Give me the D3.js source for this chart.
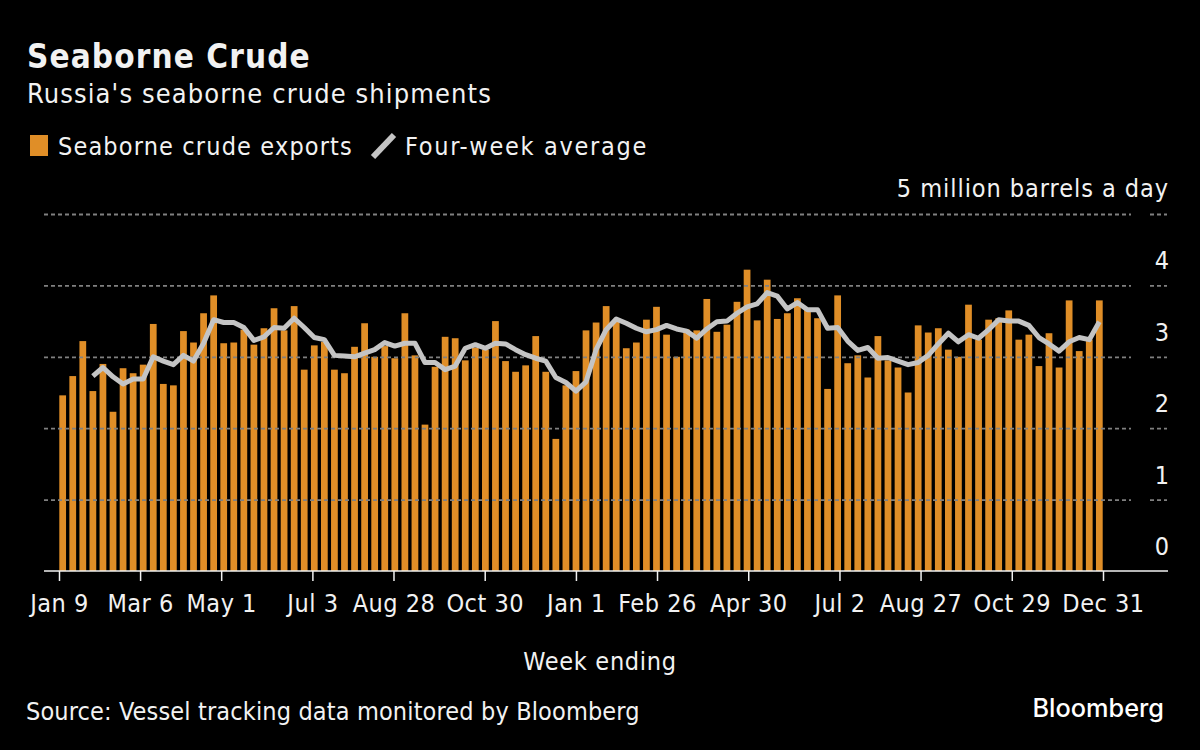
<!DOCTYPE html>
<html>
<head>
<meta charset="utf-8">
<script src="https://cdn.jsdelivr.net/npm/d3@7"></script>
<style>
html, body { margin: 0; padding: 0; background: #000; }
text { font-family: "DejaVu Sans", sans-serif; font-stretch: condensed; fill: #f2f2f2; }
</style>
</head>
<body>
<svg id="chart" width="1200" height="750"></svg>
<script>
// values, million barrels a day
var exportsVals = [
    2.46, 2.73, 3.22, 2.52, 2.90, 2.23, 2.84, 2.77, 2.89, 3.46, 2.62, 2.60, 3.36,
    3.20, 3.61, 3.86, 3.19, 3.20, 3.38, 3.17, 3.40, 3.68, 3.37, 3.71, 2.82, 3.16,
    3.21, 2.82, 2.77, 3.14, 3.47, 3.00, 3.15, 2.98, 3.61, 3.02, 2.05, 2.86, 3.28,
    3.26, 2.95, 3.13, 3.10, 3.50, 2.94, 2.79, 2.88, 3.29, 2.79, 1.85, 2.60, 2.80,
    3.37, 3.48, 3.71, 3.52, 3.12, 3.20, 3.52, 3.70, 3.31, 3.00, 3.38, 3.37, 3.81,
    3.35, 3.45, 3.77, 4.22, 3.51, 4.08, 3.53, 3.61, 3.82, 3.68, 3.54, 2.55, 3.86,
    2.91, 3.02, 2.71, 3.29, 2.95, 2.85, 2.50, 3.44, 3.34, 3.40, 3.10, 3.00, 3.73,
    3.24, 3.52, 3.54, 3.65, 3.24, 3.31, 2.87, 3.33, 2.85, 3.79, 3.08, 3.24, 3.79
];
// four-week average starts with the fourth week
var averageVals = [
    2.73, 2.85, 2.72, 2.62, 2.69, 2.69, 3.00, 2.94, 2.89, 3.02, 2.94, 3.19, 3.52,
    3.48, 3.48, 3.41, 3.23, 3.28, 3.41, 3.40, 3.54, 3.41, 3.27, 3.24, 3.02, 3.01,
    3.00, 3.05, 3.10, 3.20, 3.15, 3.19, 3.19, 2.92, 2.92, 2.82, 2.87, 3.12, 3.17,
    3.12, 3.19, 3.18, 3.10, 3.03, 2.98, 2.94, 2.71, 2.64, 2.52, 2.65, 3.10, 3.38,
    3.53, 3.47, 3.40, 3.35, 3.38, 3.44, 3.39, 3.36, 3.26, 3.39, 3.49, 3.50, 3.61,
    3.70, 3.74, 3.90, 3.85, 3.67, 3.76, 3.66, 3.66, 3.40, 3.41, 3.22, 3.09, 3.13,
    2.98, 2.99, 2.94, 2.89, 2.92, 3.02, 3.18, 3.33, 3.21, 3.31, 3.26, 3.38, 3.52,
    3.50, 3.50, 3.44, 3.27, 3.18, 3.08, 3.21, 3.27, 3.24, 3.49
];
var tickWeeks = [0, 8, 16, 25, 33, 42, 51, 59, 68, 77, 85, 94, 103];
var tickLabels = ["Jan 9", "Mar 6", "May 1", "Jul 3", "Aug 28", "Oct 30", "Jan 1", "Feb 26", "Apr 30", "Jul 2", "Aug 27", "Oct 29", "Dec 31"];
var yTicks = [0, 1, 2, 3, 4, 5];

var svg = d3.select("#chart");

var x = d3.scaleBand()
    .domain(d3.range(exportsVals.length))
    .range([59.3, 1102.7])
    .paddingInner(0.33);
var xTick = d3.scaleLinear().domain([0, 103]).range([59, 1103]);
var y = d3.scaleLinear().domain([0, 5]).range([571, 214]);

var orange = "#e08e27";
var grey = "#c4c4c4";

// bars
svg.append("g").selectAll("rect")
    .data(exportsVals)
    .enter().append("rect")
    .attr("x", function (d, i) { return x(i); })
    .attr("y", function (d) { return y(d); })
    .attr("width", x.bandwidth())
    .attr("height", function (d) { return y(0) - y(d); })
    .attr("fill", orange);

// grid goes over the bars
var gridVals = yTicks.filter(function (d) { return d > 0; });
svg.append("g").selectAll("line")
    .data(gridVals)
    .enter().append("line")
    .attr("x1", 44)
    .attr("x2", 1167)
    .attr("y1", function (d) { return y(d) + 0.5; })
    .attr("y2", function (d) { return y(d) + 0.5; })
    .attr("stroke", "#808080")
    .attr("stroke-width", 1.8)
    .attr("stroke-dasharray", "4 3");

// gap in the grid next to the axis labels
svg.append("g").selectAll("rect")
    .data(gridVals)
    .enter().append("rect")
    .attr("x", 1131)
    .attr("width", 17)
    .attr("y", function (d) { return y(d) - 3; })
    .attr("height", 6)
    .attr("fill", "#000");

// average line
var avgLine = d3.line()
    .x(function (d, i) { return x(i + 3) + x.bandwidth() / 2; })
    .y(function (d) { return y(d); });
svg.append("path")
    .datum(averageVals)
    .attr("d", avgLine)
    .attr("fill", "none")
    .attr("stroke", grey)
    .attr("stroke-width", 5)
    .attr("stroke-linejoin", "round");

// x axis
var xAxis = d3.axisBottom(xTick)
    .tickValues(tickWeeks)
    .tickFormat(function (d) { return tickLabels[tickWeeks.indexOf(d)]; })
    .tickSize(10)
    .tickPadding(13);
var xG = svg.append("g")
    .attr("transform", "translate(0,571)")
    .call(xAxis);
xG.select(".domain").remove();
xG.selectAll("line").attr("stroke", "#f2f2f2").attr("stroke-width", 1.5);
xG.selectAll("text").style("font-size", "25px").style("font-family", null).style("letter-spacing", "0.5px");
svg.append("line")
    .attr("x1", 44).attr("x2", 1168)
    .attr("y1", 571).attr("y2", 571)
    .attr("stroke", "#f2f2f2").attr("stroke-width", 1.6);

// y labels sit above their grid lines
svg.append("g").selectAll("text")
    .data(yTicks.filter(function (d) { return d < 5; }))
    .enter().append("text")
    .attr("x", 1169)
    .attr("y", function (d) { return y(d) - 16; })
    .attr("text-anchor", "end")
    .style("font-size", "25px")
    .text(function (d) { return d; });
svg.append("text")
    .attr("x", 1169).attr("y", 197)
    .attr("text-anchor", "end")
    .style("font-size", "25px").style("letter-spacing", "0.95px")
    .text("5 million barrels a day");

// titles
svg.append("text").attr("x", 27).attr("y", 68)
    .style("font-size", "33px").style("font-weight", "bold").style("letter-spacing", "1.1px")
    .text("Seaborne Crude");
svg.append("text").attr("x", 27).attr("y", 103)
    .style("font-size", "27px").style("letter-spacing", "1.1px")
    .text("Russia's seaborne crude shipments");

// legend
svg.append("rect").attr("x", 30).attr("y", 135).attr("width", 18).attr("height", 21).attr("fill", orange);
svg.append("text").attr("x", 58).attr("y", 155).style("font-size", "25px").style("letter-spacing", "1.15px").text("Seaborne crude exports");
svg.append("line").attr("x1", 373).attr("y1", 157).attr("x2", 394).attr("y2", 135)
    .attr("stroke", grey).attr("stroke-width", 6);
svg.append("text").attr("x", 405).attr("y", 155).style("font-size", "25px").style("letter-spacing", "1.7px").text("Four-week average");

// footer
svg.append("text").attr("x", 600).attr("y", 670).attr("text-anchor", "middle")
    .style("font-size", "25px").style("letter-spacing", "0.7px").text("Week ending");
svg.append("text").attr("x", 26).attr("y", 720)
    .style("font-size", "25px").style("letter-spacing", "0.14px").text("Source: Vessel tracking data monitored by Bloomberg");
svg.append("text").attr("x", 1164).attr("y", 717).attr("text-anchor", "end")
    .style("font-family", "Inter, sans-serif").style("font-stretch", "normal")
    .style("font-size", "25.3px").style("font-weight", 500).style("fill", "#fff")
    .text("Bloomberg");
</script>
</body>
</html>
